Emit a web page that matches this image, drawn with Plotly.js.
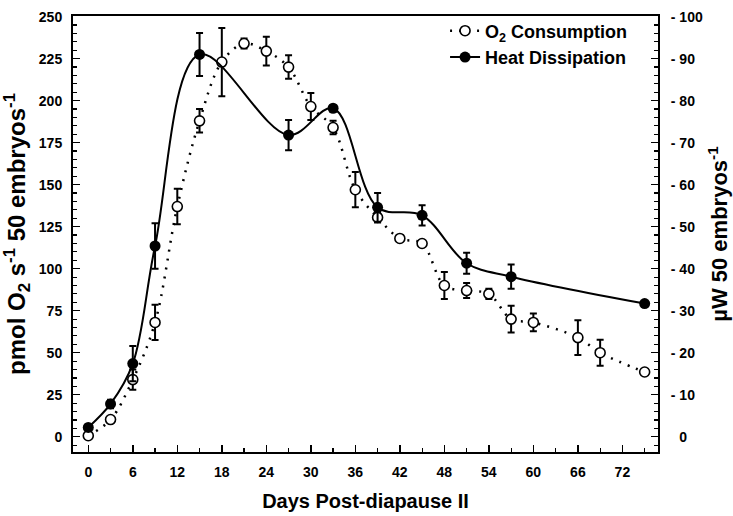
<!DOCTYPE html>
<html>
<head>
<meta charset="utf-8">
<script src="https://cdn.plot.ly/plotly-3.0.1.min.js"></script>
<style>
  html, body { margin: 0; padding: 0; background: #fff; }
  #chart { width: 733px; height: 516px; }
</style>
</head>
<body>
<div id="chart"></div>
<script>
// Oxygen consumption (pmol O2 s-1 per 50 embryos), left axis
const o2Days = [0, 3, 6, 9, 12, 15, 18, 21, 24, 27, 30, 33, 36, 39, 42, 45, 48, 51, 54, 57, 60, 66, 69, 75];
const o2Values = [0.6, 10.2, 34, 68, 137, 188, 223, 234, 229.5, 220, 196.5, 184, 147, 130.5, 118, 115, 90, 87, 85, 70, 68, 59, 50, 38.5];
const o2Errors = [0, 0, 6, 10.5, 10.6, 7, 20.3, 3, 8.5, 7, 8, 4, 10.5, 3, 0, 0, 8, 4.5, 3, 8, 5.3, 10.3, 7.7, 0];

// Heat dissipation (µW per 50 embryos), right axis
const heatDays = [0, 3, 6, 9, 15, 27, 33, 39, 45, 51, 57, 75];
const heatValues = [2.2, 7.8, 17.4, 45.4, 91.0, 71.8, 78.2, 54.6, 52.7, 41.3, 38.1, 31.7];
const heatErrors = [0, 1, 4.2, 5.4, 5.1, 3.6, 0, 3.4, 2.4, 2.5, 2.9, 0];

// Tick labels
const xTicks = [0, 6, 12, 18, 24, 30, 36, 42, 48, 54, 60, 66, 72];
const leftTicks = [0, 25, 50, 75, 100, 125, 150, 175, 200, 225, 250];
const rightTicks = [0, 10, 20, 30, 40, 50, 60, 70, 80, 90, 100];
const rightTickText = rightTicks.map(v => v === 0 ? '<span style="color:#ffffff">- </span>0' : '- ' + v);

const FONT = 'Liberation Sans, Arial, Helvetica, sans-serif';

const o2Trace = {
  x: o2Days,
  y: o2Values,
  name: 'O<sub>2</sub> Consumption',
  type: 'scatter',
  mode: 'lines+markers',
  yaxis: 'y',
  line: { color: '#000', width: 2.5, dash: '2px,7px', shape: 'spline', smoothing: 1 },
  marker: { symbol: 'circle', size: 10, color: '#fff', line: { color: '#000', width: 1.6 } },
  error_y: { type: 'data', array: o2Errors, visible: true, color: '#000', thickness: 2, width: 3.5 },
  cliponaxis: false
};

const heatTrace = {
  x: heatDays,
  y: heatValues,
  name: 'Heat Dissipation',
  type: 'scatter',
  mode: 'lines+markers',
  yaxis: 'y2',
  line: { color: '#000', width: 2, shape: 'spline', smoothing: 1 },
  marker: { symbol: 'circle', size: 11, color: '#000' },
  error_y: { type: 'data', array: heatErrors, visible: true, color: '#000', thickness: 2, width: 3.5 },
  cliponaxis: false
};

const tickFont = { family: FONT, size: 14, color: '#000', weight: 700 };
const xTitleFont = { family: FONT, size: 20, color: '#000', weight: 700 };
const leftTitleFont = { family: FONT, size: 24, color: '#000', weight: 700 };
const rightTitleFont = { family: FONT, size: 22, color: '#000', weight: 700 };

const layout = {
  width: 733,
  height: 516,
  margin: { l: 73, r: 75, t: 16, b: 64, pad: 0 },
  paper_bgcolor: '#fff',
  plot_bgcolor: '#fff',
  showlegend: true,
  legend: {
    x: 0.636, y: 1.008, xanchor: 'left', yanchor: 'top',
    bgcolor: 'rgba(0,0,0,0)',
    font: { family: FONT, size: 18, color: '#000', weight: 700 }
  },
  xaxis: {
    range: [-2.06, 76.8],
    tickvals: xTicks,
    ticks: 'inside', ticklen: 7, tickwidth: 1.5, tickcolor: '#000',
    minor: { dtick: 3, tick0: 0, ticks: 'inside', ticklen: 4, tickwidth: 1.2, tickcolor: '#000' },
    showline: true, linewidth: 2, linecolor: '#000', mirror: true,
    showgrid: false, zeroline: false,
    tickfont: tickFont,
    ticklabelstandoff: 6,
    title: { text: 'Days Post-diapause II', font: xTitleFont, standoff: 15 }
  },
  yaxis: {
    range: [-9.1, 250.4],
    tickvals: leftTicks,
    ticks: 'inside', ticklen: 7, tickwidth: 1.5, tickcolor: '#000',
    minor: { dtick: 5, tick0: 0, ticks: 'inside', ticklen: 4, tickwidth: 1.2, tickcolor: '#000' },
    showline: true, linewidth: 2, linecolor: '#000',
    showgrid: false, zeroline: false,
    tickfont: tickFont,
    ticklabelstandoff: 6,
    title: { text: 'pmol O<sub>2</sub> s<sup>-1</sup> 50 embryos<sup>-1</sup>', font: leftTitleFont, standoff: 6 }
  },
  yaxis2: {
    overlaying: 'y',
    side: 'right',
    range: [-3.64, 100.16],
    tickvals: rightTicks,
    ticktext: rightTickText,
    ticks: 'inside', ticklen: 7, tickwidth: 1.5, tickcolor: '#000',
    minor: { dtick: 2, tick0: 0, ticks: 'inside', ticklen: 4, tickwidth: 1.2, tickcolor: '#000' },
    showline: true, linewidth: 2, linecolor: '#000',
    showgrid: false, zeroline: false,
    tickfont: tickFont,
    ticklabelstandoff: 8,
    title: { text: 'µW 50 embryos<sup>-1</sup>', font: rightTitleFont, standoff: 10 }
  }
};

Plotly.newPlot('chart', [o2Trace, heatTrace], layout, { staticPlot: true, displayModeBar: false });
</script>
</body>
</html>
